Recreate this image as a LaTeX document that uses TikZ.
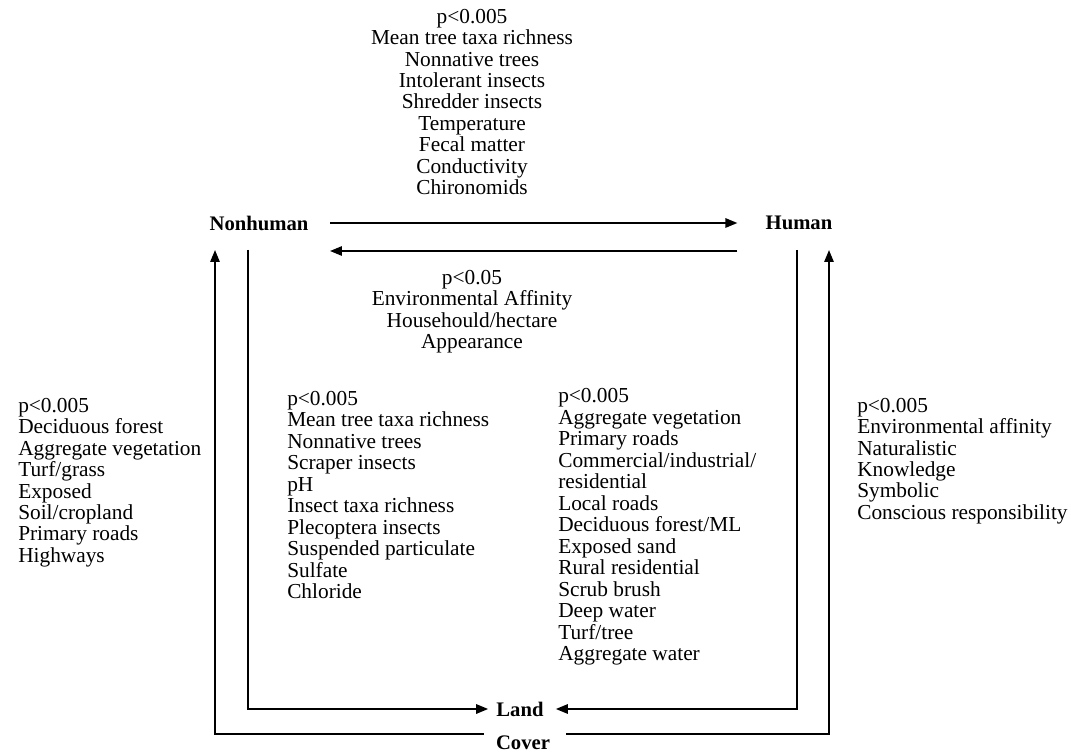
\documentclass[tikz,border=0pt]{standalone}
\usepackage{fontspec}
\setmainfont{Liberation Serif}
\usetikzlibrary{arrows.meta}

\tikzset{
	lst/.style={inner sep=0pt, font=\fontsize{16}{16.1}\selectfont},
	hub/.style={inner sep=0pt, font=\fontsize{15.5}{16.1}\selectfont\bfseries},
	link/.style={line width=1.4pt},
	arr/.style={link, -{Triangle[length=9pt,width=7pt]}}
}

\begin{document}
\begin{tikzpicture}[x=0.75pt, y=-0.75pt]
\useasboundingbox (0,0) rectangle (1071,755);

% Hubs
\node[hub] (nh) at (259,223) {Nonhuman};
\node[hub] (hu) at (799,223) {Human};
\node[hub] (land) at (520,709) {Land};
\node[hub] (cov) at (523,743) {Cover};

% Corner points
\coordinate (nhO) at (215,250);
\coordinate (nhI) at (248,250);
\coordinate (huI) at (797,250);
\coordinate (huO) at (829,250);

% Nonhuman <-> Human
\draw[arr] ([xshift=16pt]nh.east) -- ([xshift=-21pt]hu.west);
\draw[arr] ([xshift=-21pt,yshift=-21pt]hu.west) -- ([xshift=16pt,yshift=-21pt]nh.east);

% to Land
\draw[arr] (nhI) |- ([xshift=-6pt]land.west);
\draw[arr] (huI) |- ([xshift=9pt]land.east);

% from Cover
\draw[arr] ([xshift=-9pt,yshift=7pt]cov.west) -| (nhO);
\draw[arr] ([xshift=12pt,yshift=7pt]cov.east) -| (huO);

% Lists
\node[lst, align=center] (top) at (472,102) {p<0.005\\Mean tree taxa richness\\Nonnative trees\\Intolerant insects\\Shredder insects\\Temperature\\Fecal matter\\Conductivity\\Chironomids};
\node[lst, align=center] (mid) at (472,311.5) {p<0.05\\Environmental Affinity\\Househould/hectare\\Appearance};
\node[lst, align=left, anchor=west] (left) at (18,482.5) {p<0.005\\Deciduous forest\\Aggregate vegetation\\Turf/grass\\Exposed\\Soil/cropland\\Primary roads\\Highways};
\node[lst, align=left, anchor=west] (nhl) at (287,495) {p<0.005\\Mean tree taxa richness\\Nonnative trees\\Scraper insects\\pH\\Insect taxa richness\\Plecoptera insects\\Suspended particulate\\Sulfate\\Chloride};
\node[lst, align=left, anchor=west] (hul) at (558,527) {p<0.005\\Aggregate vegetation\\Primary roads\\Commercial/industrial/\\residential\\Local roads\\Deciduous forest/ML\\Exposed sand\\Rural residential\\Scrub brush\\Deep water\\Turf/tree\\Aggregate water};
\node[lst, align=left, anchor=west] (right) at (857,461) {p<0.005\\Environmental affinity\\Naturalistic\\Knowledge\\Symbolic\\Conscious responsibility};

\end{tikzpicture}
\end{document}
